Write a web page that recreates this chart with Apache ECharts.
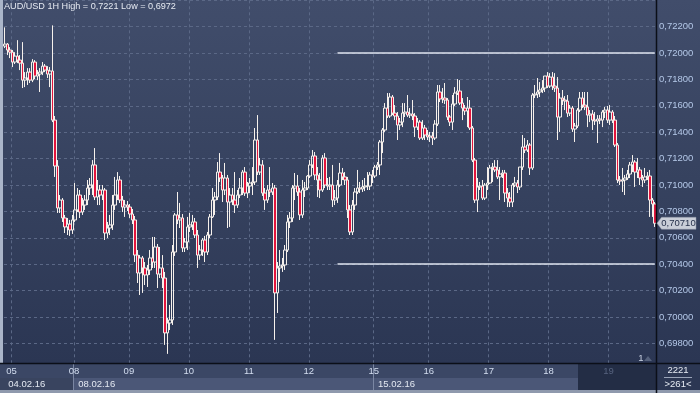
<!DOCTYPE html>
<html><head><meta charset="utf-8">
<script src="https://cdn.jsdelivr.net/npm/echarts/dist/echarts.min.js"></script>
<style>
html,body{margin:0;padding:0;width:700px;height:393px;overflow:hidden;background:#2d3856;}
#c{width:700px;height:393px;background:linear-gradient(to bottom,#414d6b 0px,#36425f 180px,#2b3653 363px,#2b3653 393px);}
</style></head><body><div id="c"></div>
<script>
const opens=[
0.72053,0.72068,0.72023,0.72007,0.71932,0.71977,0.71947,0.71924,0.71795,0.71811,
0.71856,0.71795,0.71932,0.71826,0.71841,0.71856,0.71901,0.71871,0.71841,0.71864,
0.71492,0.71144,0.70826,0.70886,0.70750,0.70682,0.70704,0.70659,0.70735,0.70811,
0.70924,0.70795,0.70848,0.70886,0.70977,0.71000,0.71152,0.70909,0.70962,0.70924,
0.70962,0.70636,0.70674,0.70697,0.70848,0.70924,0.71038,0.70886,0.70833,0.70848,
0.70833,0.70780,0.70735,0.70469,0.70333,0.70447,0.70371,0.70318,0.70356,0.70447,
0.70416,0.70530,0.70325,0.70371,0.70295,0.69879,0.69954,0.69977,0.70492,0.70773,
0.70735,0.70750,0.70523,0.70568,0.70682,0.70697,0.70720,0.70621,0.70469,0.70507,
0.70583,0.70492,0.70621,0.70758,0.70886,0.70909,0.71098,0.71053,0.70962,0.71053,
0.70871,0.70924,0.70886,0.70848,0.70924,0.70977,0.71098,0.70939,0.70992,0.71015,
0.71023,0.71341,0.71098,0.71152,0.70939,0.70886,0.70962,0.70947,0.70977,0.70182,
0.70371,0.70386,0.70394,0.70507,0.70720,0.70750,0.70977,0.70992,0.70947,0.70773,
0.70962,0.70977,0.71068,0.71152,0.71220,0.71076,0.71038,0.70962,0.71205,0.71000,
0.70992,0.71000,0.70886,0.70901,0.71000,0.71091,0.71061,0.71038,0.70811,0.70644,
0.70848,0.70947,0.70977,0.70970,0.70985,0.70992,0.70992,0.71076,0.71068,0.71136,
0.71152,0.71326,0.71417,0.71583,0.71523,0.71667,0.71545,0.71523,0.71455,0.71477,
0.71545,0.71553,0.71530,0.71538,0.71523,0.71439,0.71477,0.71356,0.71432,0.71379,
0.71364,0.71371,0.71356,0.71462,0.71705,0.71652,0.71659,0.71644,0.71515,0.71477,
0.71614,0.71697,0.71712,0.71621,0.71583,0.71561,0.71583,0.71432,0.71189,0.70886,
0.70985,0.70992,0.70901,0.71000,0.71015,0.71129,0.71136,0.71114,0.71061,0.71083,
0.71091,0.70939,0.70901,0.70871,0.71000,0.71015,0.70985,0.71136,0.71288,0.71265,
0.71303,0.71129,0.71682,0.71689,0.71705,0.71720,0.71735,0.71826,0.71750,0.71818,
0.71750,0.71735,0.71515,0.71659,0.71644,0.71636,0.71545,0.71583,0.71424,0.71447,
0.71568,0.71659,0.71606,0.71591,0.71530,0.71538,0.71492,0.71485,0.71500,0.71492,
0.71553,0.71568,0.71492,0.71553,0.71492,0.71303,0.71038,0.71030,0.71038,0.71053,
0.71083,0.71152,0.71174,0.71098,0.71114,0.71053,0.71038,0.71061,0.71068,0.70886,
0.70856];
const closes=[
0.72068,0.72023,0.72007,0.71932,0.71977,0.71947,0.71924,0.71795,0.71811,0.71856,
0.71795,0.71932,0.71826,0.71841,0.71856,0.71901,0.71871,0.71841,0.71864,0.71492,
0.71144,0.70826,0.70886,0.70750,0.70682,0.70704,0.70659,0.70735,0.70811,0.70924,
0.70795,0.70848,0.70886,0.70977,0.71000,0.71152,0.70909,0.70962,0.70924,0.70962,
0.70636,0.70674,0.70697,0.70848,0.70924,0.71038,0.70886,0.70833,0.70848,0.70833,
0.70780,0.70735,0.70469,0.70333,0.70447,0.70371,0.70318,0.70356,0.70447,0.70416,
0.70530,0.70325,0.70371,0.70295,0.69879,0.69954,0.69977,0.70492,0.70773,0.70735,
0.70750,0.70523,0.70568,0.70682,0.70697,0.70720,0.70621,0.70469,0.70507,0.70583,
0.70492,0.70621,0.70758,0.70886,0.70909,0.71098,0.71053,0.70962,0.71053,0.70871,
0.70924,0.70886,0.70848,0.70924,0.70977,0.71098,0.70939,0.70992,0.71015,0.71023,
0.71341,0.71098,0.71152,0.70939,0.70886,0.70962,0.70947,0.70977,0.70182,0.70371,
0.70386,0.70394,0.70507,0.70720,0.70750,0.70977,0.70992,0.70947,0.70773,0.70962,
0.70977,0.71068,0.71152,0.71220,0.71076,0.71038,0.70962,0.71205,0.71000,0.70992,
0.71000,0.70886,0.70901,0.71000,0.71091,0.71061,0.71038,0.70811,0.70644,0.70848,
0.70947,0.70977,0.70970,0.70985,0.70992,0.70992,0.71076,0.71068,0.71136,0.71152,
0.71326,0.71417,0.71583,0.71523,0.71667,0.71545,0.71523,0.71455,0.71477,0.71545,
0.71553,0.71530,0.71538,0.71523,0.71439,0.71477,0.71356,0.71432,0.71379,0.71364,
0.71371,0.71356,0.71462,0.71705,0.71652,0.71659,0.71644,0.71515,0.71477,0.71614,
0.71697,0.71712,0.71621,0.71583,0.71561,0.71583,0.71432,0.71189,0.70886,0.70985,
0.70992,0.70901,0.71000,0.71015,0.71129,0.71136,0.71114,0.71061,0.71083,0.71091,
0.70939,0.70901,0.70871,0.71000,0.71015,0.70985,0.71136,0.71288,0.71265,0.71303,
0.71129,0.71682,0.71689,0.71705,0.71720,0.71735,0.71826,0.71750,0.71818,0.71750,
0.71735,0.71515,0.71659,0.71644,0.71636,0.71545,0.71583,0.71424,0.71447,0.71568,
0.71659,0.71606,0.71591,0.71530,0.71538,0.71492,0.71485,0.71500,0.71492,0.71553,
0.71568,0.71492,0.71553,0.71492,0.71303,0.71038,0.71030,0.71038,0.71053,0.71083,
0.71152,0.71174,0.71098,0.71114,0.71053,0.71038,0.71061,0.71068,0.70886,0.70856,
0.70710];
const highs=[
0.72195,0.72076,0.72045,0.72023,0.72007,0.72098,0.71985,0.72083,0.71856,0.71886,
0.71886,0.71954,0.71947,0.71871,0.71886,0.71932,0.71917,0.71901,0.71894,0.72210,
0.71523,0.71189,0.70924,0.70901,0.70773,0.70750,0.70735,0.70773,0.71015,0.70977,
0.70962,0.70901,0.70924,0.71038,0.71053,0.71189,0.71280,0.71038,0.71000,0.71000,
0.70977,0.70720,0.70773,0.70924,0.71061,0.71098,0.71068,0.70917,0.70886,0.70879,
0.70856,0.70818,0.70765,0.70507,0.70469,0.70462,0.70416,0.70394,0.70507,0.70606,
0.70606,0.70553,0.70530,0.70469,0.70341,0.69992,0.70091,0.70545,0.70788,0.70947,
0.70864,0.70780,0.70598,0.70758,0.70788,0.70773,0.70750,0.70659,0.70545,0.70598,
0.70614,0.70644,0.70780,0.70977,0.70947,0.71174,0.71242,0.71076,0.71167,0.71076,
0.70977,0.70977,0.71098,0.70962,0.71053,0.71114,0.71136,0.71023,0.71053,0.71136,
0.71432,0.71530,0.71205,0.71189,0.70977,0.71000,0.71136,0.71015,0.71000,0.70416,
0.70507,0.70447,0.70545,0.70773,0.70795,0.71000,0.71091,0.71076,0.70977,0.71038,
0.71023,0.71076,0.71189,0.71265,0.71250,0.71136,0.71091,0.71227,0.71242,0.71053,
0.71061,0.71152,0.70962,0.71038,0.71167,0.71129,0.71098,0.71061,0.70848,0.70886,
0.70977,0.71114,0.71023,0.71038,0.71053,0.71098,0.71098,0.71114,0.71152,0.71174,
0.71341,0.71432,0.71621,0.71697,0.71697,0.71682,0.71606,0.71553,0.71508,0.71621,
0.71621,0.71682,0.71583,0.71644,0.71545,0.71508,0.71492,0.71492,0.71455,0.71417,
0.71402,0.71402,0.71492,0.71758,0.71758,0.71735,0.71773,0.71659,0.71530,0.71682,
0.71742,0.71803,0.71795,0.71659,0.71606,0.71667,0.71644,0.71447,0.71205,0.71053,
0.71023,0.71038,0.71015,0.71136,0.71152,0.71167,0.71189,0.71189,0.71136,0.71114,
0.71114,0.70977,0.70947,0.71015,0.71061,0.71038,0.71136,0.71379,0.71356,0.71341,
0.71318,0.71697,0.71758,0.71811,0.71780,0.71795,0.71826,0.71856,0.71848,0.71856,
0.71848,0.71818,0.71697,0.71720,0.71674,0.71682,0.71606,0.71599,0.71470,0.71583,
0.71705,0.71705,0.71705,0.71705,0.71568,0.71568,0.71553,0.71530,0.71530,0.71568,
0.71591,0.71599,0.71606,0.71568,0.71523,0.71318,0.71068,0.71129,0.71076,0.71114,
0.71174,0.71227,0.71189,0.71205,0.71136,0.71076,0.71129,0.71098,0.71114,0.70901,
0.70871];
const lows=[
0.72038,0.71985,0.71962,0.71894,0.71917,0.71924,0.71871,0.71735,0.71742,0.71758,
0.71773,0.71780,0.71803,0.71795,0.71705,0.71833,0.71856,0.71811,0.71742,0.71477,
0.71061,0.70788,0.70788,0.70720,0.70636,0.70621,0.70614,0.70629,0.70720,0.70795,
0.70750,0.70773,0.70811,0.70848,0.70924,0.70924,0.70886,0.70848,0.70848,0.70886,
0.70583,0.70598,0.70621,0.70659,0.70811,0.70886,0.70864,0.70795,0.70758,0.70803,
0.70750,0.70704,0.70416,0.70257,0.70166,0.70182,0.70242,0.70227,0.70318,0.70371,
0.70371,0.70219,0.70295,0.70219,0.69788,0.69720,0.69901,0.69939,0.70462,0.70704,
0.70674,0.70492,0.70492,0.70507,0.70644,0.70659,0.70598,0.70371,0.70432,0.70462,
0.70416,0.70469,0.70598,0.70750,0.70773,0.70886,0.71023,0.70871,0.70924,0.70674,
0.70682,0.70848,0.70788,0.70826,0.70901,0.70924,0.70917,0.70901,0.70939,0.70924,
0.71000,0.71076,0.71076,0.70917,0.70811,0.70864,0.70909,0.70924,0.69826,0.70030,
0.70265,0.70341,0.70356,0.70492,0.70674,0.70720,0.70886,0.70917,0.70735,0.70750,
0.70909,0.70962,0.71053,0.71129,0.71038,0.70909,0.70901,0.70947,0.70977,0.70962,
0.70962,0.70833,0.70848,0.70864,0.70985,0.71038,0.71000,0.70750,0.70621,0.70621,
0.70811,0.70932,0.70939,0.70947,0.70954,0.70962,0.70962,0.71015,0.71053,0.71114,
0.71076,0.71242,0.71402,0.71508,0.71508,0.71530,0.71492,0.71341,0.71417,0.71439,
0.71515,0.71515,0.71508,0.71492,0.71364,0.71417,0.71341,0.71341,0.71341,0.71341,
0.71326,0.71303,0.71341,0.71447,0.71629,0.71621,0.71614,0.71492,0.71447,0.71417,
0.71599,0.71682,0.71606,0.71492,0.71530,0.71439,0.71417,0.71174,0.70864,0.70795,
0.70962,0.70886,0.70886,0.70962,0.71008,0.71023,0.71098,0.71045,0.70886,0.71053,
0.70871,0.70833,0.70833,0.70833,0.70985,0.70939,0.70962,0.71114,0.71242,0.71250,
0.71076,0.71114,0.71659,0.71659,0.71667,0.71697,0.71705,0.71735,0.71735,0.71720,
0.71705,0.71341,0.71402,0.71606,0.71568,0.71515,0.71523,0.71402,0.71326,0.71432,
0.71553,0.71583,0.71568,0.71439,0.71477,0.71417,0.71455,0.71318,0.71462,0.71439,
0.71508,0.71470,0.71455,0.71470,0.71288,0.71015,0.71000,0.70947,0.70924,0.71038,
0.71053,0.71098,0.70985,0.71053,0.71000,0.70985,0.71015,0.71038,0.70758,0.70758,
0.70682];

const dayLabels=['05','08','09','10','11','12','15','16','17','18','19'];
const dayStartIndex=[3,28,50,74,98,122,148,170,194,218,242];
const weekLabels=['04.02.16','08.02.16','15.02.16'];
const weekStartIndex=[0,28,148];
const levelLines=[0.720,0.704];
const levelStartIndex=133;
const lastPrice=0.70710;
const titleText='AUD/USD 1H High = 0,7221 Low = 0,6972';
const yMin=0.696, yMax=0.724, yStep=0.002;

const FONT='"Liberation Sans", Arial, sans-serif';
const categories=opens.map((_,i)=>String(i));
const ohlc=opens.map((o,i)=>[o,closes[i],lows[i],highs[i]]);
const lastIndex=opens.length-1;
const comma=v=>v.toFixed(5).replace('.',',');

const chart=echarts.init(document.getElementById('c'),null,{renderer:'canvas'});
const markData=levelLines.map(v=>[{coord:[levelStartIndex,v]},{coord:[lastIndex,v]}]);

chart.setOption({
  animation:false,
  backgroundColor:'transparent',
  title:{text:titleText,left:4,top:2,padding:0,textStyle:{color:'#e6eaf2',fontSize:9.1,fontWeight:'normal',fontFamily:FONT}},
  grid:{left:4,right:44,top:0.3,bottom:23.3,outerBoundsMode:'none',containLabel:false},
  xAxis:[
    {type:'category',data:categories,gridIndex:0,position:'bottom',boundaryGap:true,
     axisLine:{show:false,onZero:false},axisTick:{show:false},axisLabel:{show:false},
     splitLine:{show:true,interval:(i)=>dayStartIndex.includes(i),lineStyle:{color:'#5b6886',type:[3,3],width:1}}},
    {type:'category',data:categories,gridIndex:0,position:'bottom',boundaryGap:true,z:20,
     axisLine:{show:false,onZero:false},axisTick:{show:false},splitLine:{show:false},
     axisLabel:{show:true,interval:(i)=>dayStartIndex.includes(i),hideOverlap:false,
       formatter:(v,i)=>dayLabels[dayStartIndex.indexOf(Number(v))]||'',
       color:(v)=>Number(v)>=dayStartIndex[dayStartIndex.length-1]?'#56627e':'#d3def0',
       fontSize:9.5,fontFamily:FONT,margin:2,verticalAlign:'middle',padding:[0,2.5,0,0]}},
    {type:'category',data:categories,gridIndex:0,position:'bottom',boundaryGap:true,z:20,
     axisLine:{show:false,onZero:false},axisTick:{show:false},splitLine:{show:false},
     axisLabel:{show:true,interval:(i)=>weekStartIndex.includes(i),hideOverlap:false,
       formatter:(v)=>weekLabels[weekStartIndex.indexOf(Number(v))]||'',
       color:'#e4e9f2',fontSize:9.5,fontFamily:FONT,margin:14.5,verticalAlign:'middle',align:'left',padding:[0,0,0,3]}}
  ],
  yAxis:{type:'value',position:'right',min:yMin,max:yMax,interval:yStep,scale:true,
    axisLine:{show:false},axisTick:{show:false},
    splitLine:{show:true,lineStyle:{color:'#5b6886',type:[3,3],width:1}},
    axisLabel:{show:true,margin:3,color:'#b4c8e8',fontSize:9.5,fontFamily:FONT,hideOverlap:false,
      formatter:(v)=>(Math.abs(v-yMin)<1e-9||Math.abs(v-yMax)<1e-9)?'':comma(v)}},
  series:[{
    type:'candlestick',xAxisIndex:0,yAxisIndex:0,data:ohlc,barWidth:3,large:false,
    itemStyle:{color:'rgba(0,0,0,0)',color0:'#e3143c',borderColor:'#f6f1ec',borderColor0:'#f6f1ec',borderWidth:1},
    markLine:{silent:true,symbol:['none','none'],animation:false,precision:5,
      lineStyle:{color:'#dfe5ef',width:1.5,type:'solid'},label:{show:false},data:markData}
  }],
  graphic:[
    {type:'rect',z:10,shape:{x:0,y:0,width:3,height:363},style:{fill:'#aab5c9'}},
    {type:'rect',z:10,shape:{x:0,y:363,width:656,height:15},style:{fill:'#3b4765'}},
    {type:'rect',z:10,shape:{x:0,y:378,width:73,height:12},style:{fill:'#39445f'}},
    {type:'rect',z:10,shape:{x:73,y:378,width:583,height:12},style:{fill:'#4b5777'}},
    {type:'rect',z:11,shape:{x:578,y:363,width:78,height:27},style:{fill:'#232d45'}},
    {type:'rect',z:10,shape:{x:656,y:363,width:44,height:30},style:{fill:'#2c3753'}},
    {type:'rect',z:12,shape:{x:0,y:390,width:700,height:3},style:{fill:'#8f99ad'}},
    {type:'line',z:12,shape:{x1:73.5,y1:363,x2:73.5,y2:390},style:{stroke:'#7b87a3',lineWidth:1}},
    {type:'line',z:12,shape:{x1:373.5,y1:363,x2:373.5,y2:390},style:{stroke:'#7b87a3',lineWidth:1}},
    {type:'line',z:15,shape:{x1:656.5,y1:0,x2:656.5,y2:393},style:{stroke:'#0b0f18',lineWidth:1.5}},
    {type:'line',z:15,shape:{x1:0,y1:363.5,x2:700,y2:363.5},style:{stroke:'#0b0f18',lineWidth:1.5}},
    {type:'text',z:16,style:{x:678,y:370,text:'2221',fill:'#e6ebf3',font:'9.5px '+FONT,textAlign:'center',textVerticalAlign:'middle'}},
    {type:'line',z:16,shape:{x1:664,y1:377.5,x2:692,y2:377.5},style:{stroke:'#9aa4b8',lineWidth:1}},
    {type:'text',z:16,style:{x:678,y:384,text:'>261<',fill:'#e6ebf3',font:'9.5px '+FONT,textAlign:'center',textVerticalAlign:'middle'}},
    {type:'text',z:16,style:{x:641,y:358,text:'1',fill:'#c8d0e0',font:'9.5px '+FONT,textAlign:'center',textVerticalAlign:'middle'}},
    {type:'polygon',z:16,shape:{points:[[644,361],[652,361],[648,356]]},style:{fill:'#56627c'}}
  ]
});

// price tag for the last close, positioned through the y scale
const tagY=chart.convertToPixel({yAxisIndex:0},lastPrice);
chart.setOption({graphic:[
  {type:'polygon',id:'tagShape',z:18,shape:{points:[[657,tagY],[661.5,tagY-6],[696,tagY-6],[696,tagY+6],[661.5,tagY+6]]},
   style:{fill:'#c9ced8',stroke:'#8f97a8',lineWidth:0.5}},
  {type:'text',id:'tagText',z:19,style:{x:678.5,y:tagY+0.5,text:comma(lastPrice),fill:'#25304a',font:'9.5px '+FONT,textAlign:'center',textVerticalAlign:'middle'}}
]});
</script></body></html>
